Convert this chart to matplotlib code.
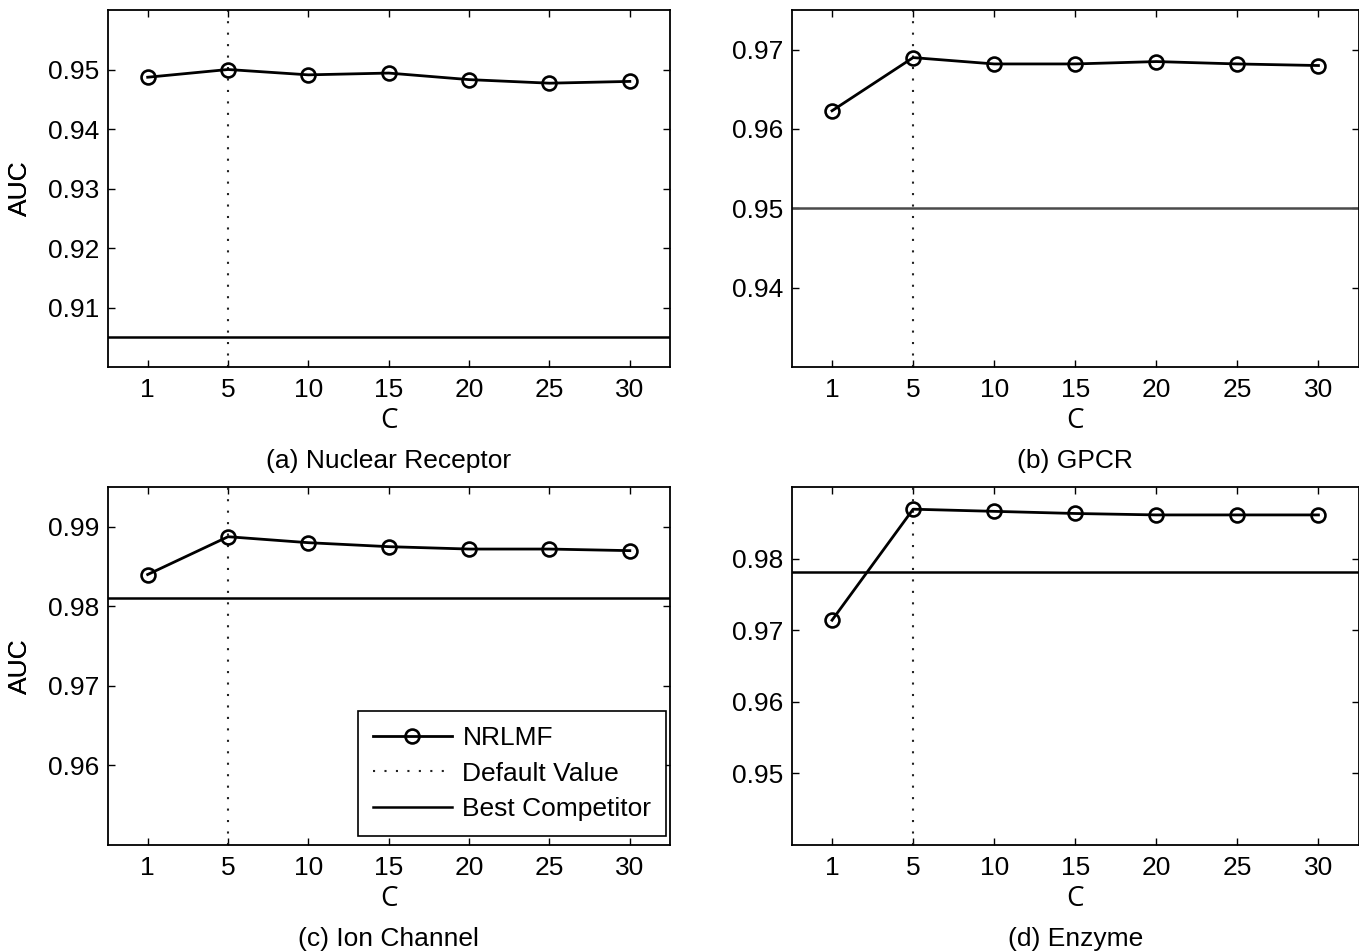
"""AUC vs. C for the four drug-target datasets (NRLMF sensitivity plot)"""
import matplotlib
matplotlib.use("Agg")
import matplotlib.pyplot as plt
import matplotlib as mpl

mpl.rcParams['font.family'] = ['Liberation Sans', 'DejaVu Sans']
mpl.rcParams['axes.linewidth'] = 1.3

# x categories (evenly spaced, as in the original)
c_values = [1, 5, 10, 15, 20, 25, 30]
default_c = 5

# AUC for each dataset
auc_nr = [0.9487, 0.9500, 0.9491, 0.9494, 0.9483, 0.9477, 0.9480]
auc_gpcr = [0.9623, 0.9690, 0.9682, 0.9682, 0.9685, 0.9682, 0.9680]
auc_ic = [0.9840, 0.98875, 0.9880, 0.9875, 0.9872, 0.9872, 0.9870]
auc_e = [0.9714, 0.9869, 0.9866, 0.9863, 0.9861, 0.9861, 0.9861]

# best competitor AUC
best_nr = 0.905
best_gpcr = 0.950
best_ic = 0.981
best_e = 0.9781

titles = ["(a) Nuclear Receptor", "(b) GPCR", "(c) Ion Channel", "(d) Enzyme"]
ylims = [(0.90, 0.96), (0.93, 0.975), (0.95, 0.995), (0.94, 0.99)]
yticks = [[0.91, 0.92, 0.93, 0.94, 0.95],
          [0.94, 0.95, 0.96, 0.97],
          [0.96, 0.97, 0.98, 0.99],
          [0.95, 0.96, 0.97, 0.98]]
comp_colors = ['k', '#4a4a4a', 'k', 'k']

W, H = 1359, 951
fig = plt.figure(figsize=(W / 100, H / 100), dpi=100)

# axes boxes in pixels: left, top, right, bottom
boxes = [(107.5, 10, 670, 367),
         (791.5, 10, 1359, 367),
         (107.5, 487, 670, 845),
         (791.5, 487, 1359, 845)]

series = [auc_nr, auc_gpcr, auc_ic, auc_e]
bests = [best_nr, best_gpcr, best_ic, best_e]
xpos = list(range(1, len(c_values) + 1))
fs = 19

for i in range(4):
    l, t, r, b = boxes[i]
    ax = fig.add_axes([l / W, 1 - b / H, (r - l) / W, (b - t) / H])

    ax.plot(xpos, series[i], 'k-', lw=2.0, marker='o', ms=10,
            mfc='none', mec='k', mew=1.9, label='NRLMF', zorder=3)
    ax.axvline(xpos[c_values.index(default_c)], color='#222222', lw=1.5,
               ls=(0, (1, 4.5)), label='Default Value')
    ax.axhline(bests[i], color=comp_colors[i], lw=1.8, label='Best Competitor')

    ax.set_xlim(0.5, len(c_values) + 0.5)
    ax.set_ylim(*ylims[i])
    ax.set_xticks(xpos)
    ax.set_xticklabels([str(c) for c in c_values])
    ax.set_yticks(yticks[i])
    ax.set_yticklabels(["%.2f" % v for v in yticks[i]])
    ax.tick_params(which='both', direction='in', length=5, width=1,
                   top=True, right=True, labelsize=fs)
    ax.tick_params(axis='x', pad=8)
    ax.tick_params(axis='y', pad=6)

    ax.set_ylabel("AUC", fontsize=fs)
    ax.yaxis.set_label_coords(-(l - 32) / (r - l), 0.5)
    ax.set_xlabel("C", fontsize=20, family=['Open Sans', 'DejaVu Sans'])
    ax.xaxis.set_label_coords(0.5, -54 / (b - t))
    ax.xaxis.label.set_va('center')
    ax.text(0.5, -94 / (b - t), titles[i], transform=ax.transAxes,
            ha='center', va='center', fontsize=fs)

    if i == 2:
        ax.legend(loc='lower right', bbox_to_anchor=(1 - 4 / (r - l), 9 / (b - t)),
                  borderaxespad=0, fontsize=fs, handlelength=3.0,
                  handletextpad=0.4, labelspacing=0.45, borderpad=0.55,
                  fancybox=False, framealpha=1, edgecolor='k')
        ax.get_legend().get_frame().set_linewidth(1.2)

fig.savefig("out.png", dpi=100)
